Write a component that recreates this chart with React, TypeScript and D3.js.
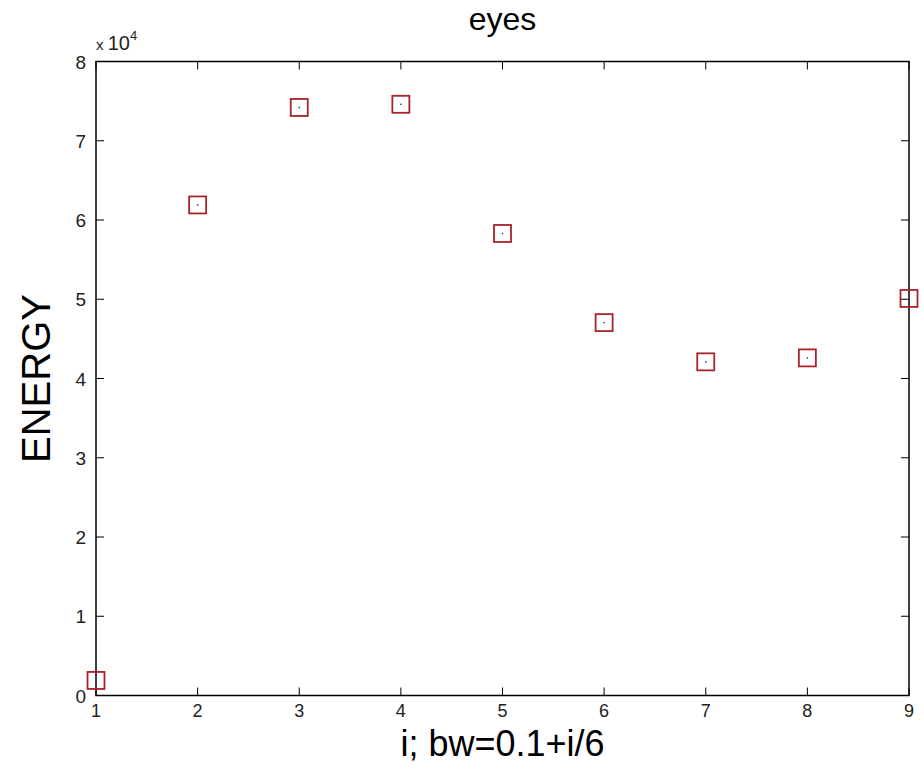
import React from "react";
import * as d3 from "d3";

const iValues = [1, 2, 3, 4, 5, 6, 7, 8, 9];
const energy = [1900, 61900, 74200, 74600, 58300, 47050, 42100, 42600, 50100];
const xTicks = [1, 2, 3, 4, 5, 6, 7, 8, 9];
const yTicks = [0, 10000, 20000, 30000, 40000, 50000, 60000, 70000, 80000];
const titleText = "eyes";
const xLabel = "i; bw=0.1+i/6";
const yLabel = "ENERGY";

const W = 924, H = 774;
const L = 96, R = 909, T = 61.5, B = 695.5;
const font = "'Liberation Sans', Arial, Helvetica, sans-serif";

export default function App() {
  const x = d3.scaleLinear().domain([1, 9]).range([L, R]);
  const y = d3.scaleLinear().domain([0, 80000]).range([B, T]);
  const tl = 8;
  const ms = 17;
  return (
    <svg width={W} height={H} style={{ position: "absolute", left: 0, top: 0, background: "#fff" }}>
      <rect x={0} y={0} width={W} height={H} fill="#fff" />
      <rect x={L} y={T} width={R - L} height={B - T} fill="none" stroke="#000" strokeWidth={1.5} />
      {xTicks.map((t) => (
        <g key={"x" + t}>
          <line x1={x(t)} x2={x(t)} y1={B} y2={B - tl} stroke="#000" />
          <line x1={x(t)} x2={x(t)} y1={T} y2={T + tl} stroke="#000" />
          <text x={x(t)} y={717} fontSize={18} fontFamily={font} textAnchor="middle" fill="#222">{t}</text>
        </g>
      ))}
      {yTicks.map((t) => (
        <g key={"y" + t}>
          <line x1={L} x2={L + tl} y1={y(t)} y2={y(t)} stroke="#000" />
          <line x1={R} x2={R - tl} y1={y(t)} y2={y(t)} stroke="#000" />
          <text x={86} y={y(t) + 7} fontSize={19} fontFamily={font} textAnchor="end" fill="#222">{t / 10000}</text>
        </g>
      ))}
      <text x={96} y={50} fontFamily={font} fill="#222">
        <tspan fontSize={15}>x </tspan>
        <tspan fontSize={20}>10</tspan>
        <tspan fontSize={13} dy={-10}>4</tspan>
      </text>
      {iValues.map((v, k) => (
        <g key={"p" + v}>
          <rect x={x(v) - ms / 2} y={y(energy[k]) - ms / 2} width={ms} height={ms} fill="none" stroke="#a8232a" strokeWidth={1.8} />
          <rect x={x(v) - 0.75} y={y(energy[k]) - 0.75} width={1.5} height={1.5} fill="#444" />
        </g>
      ))}
      <text x={(L + R) / 2} y={30} fontSize={32} fontFamily={font} textAnchor="middle" fill="#000">{titleText}</text>
      <text x={(L + R) / 2} y={756} fontSize={36} fontFamily={font} textAnchor="middle" fill="#000">{xLabel}</text>
      <text transform={`translate(50, ${(T + B) / 2}) rotate(-90)`} fontSize={40} fontFamily={font} textAnchor="middle" fill="#000">{yLabel}</text>
    </svg>
  );
}
